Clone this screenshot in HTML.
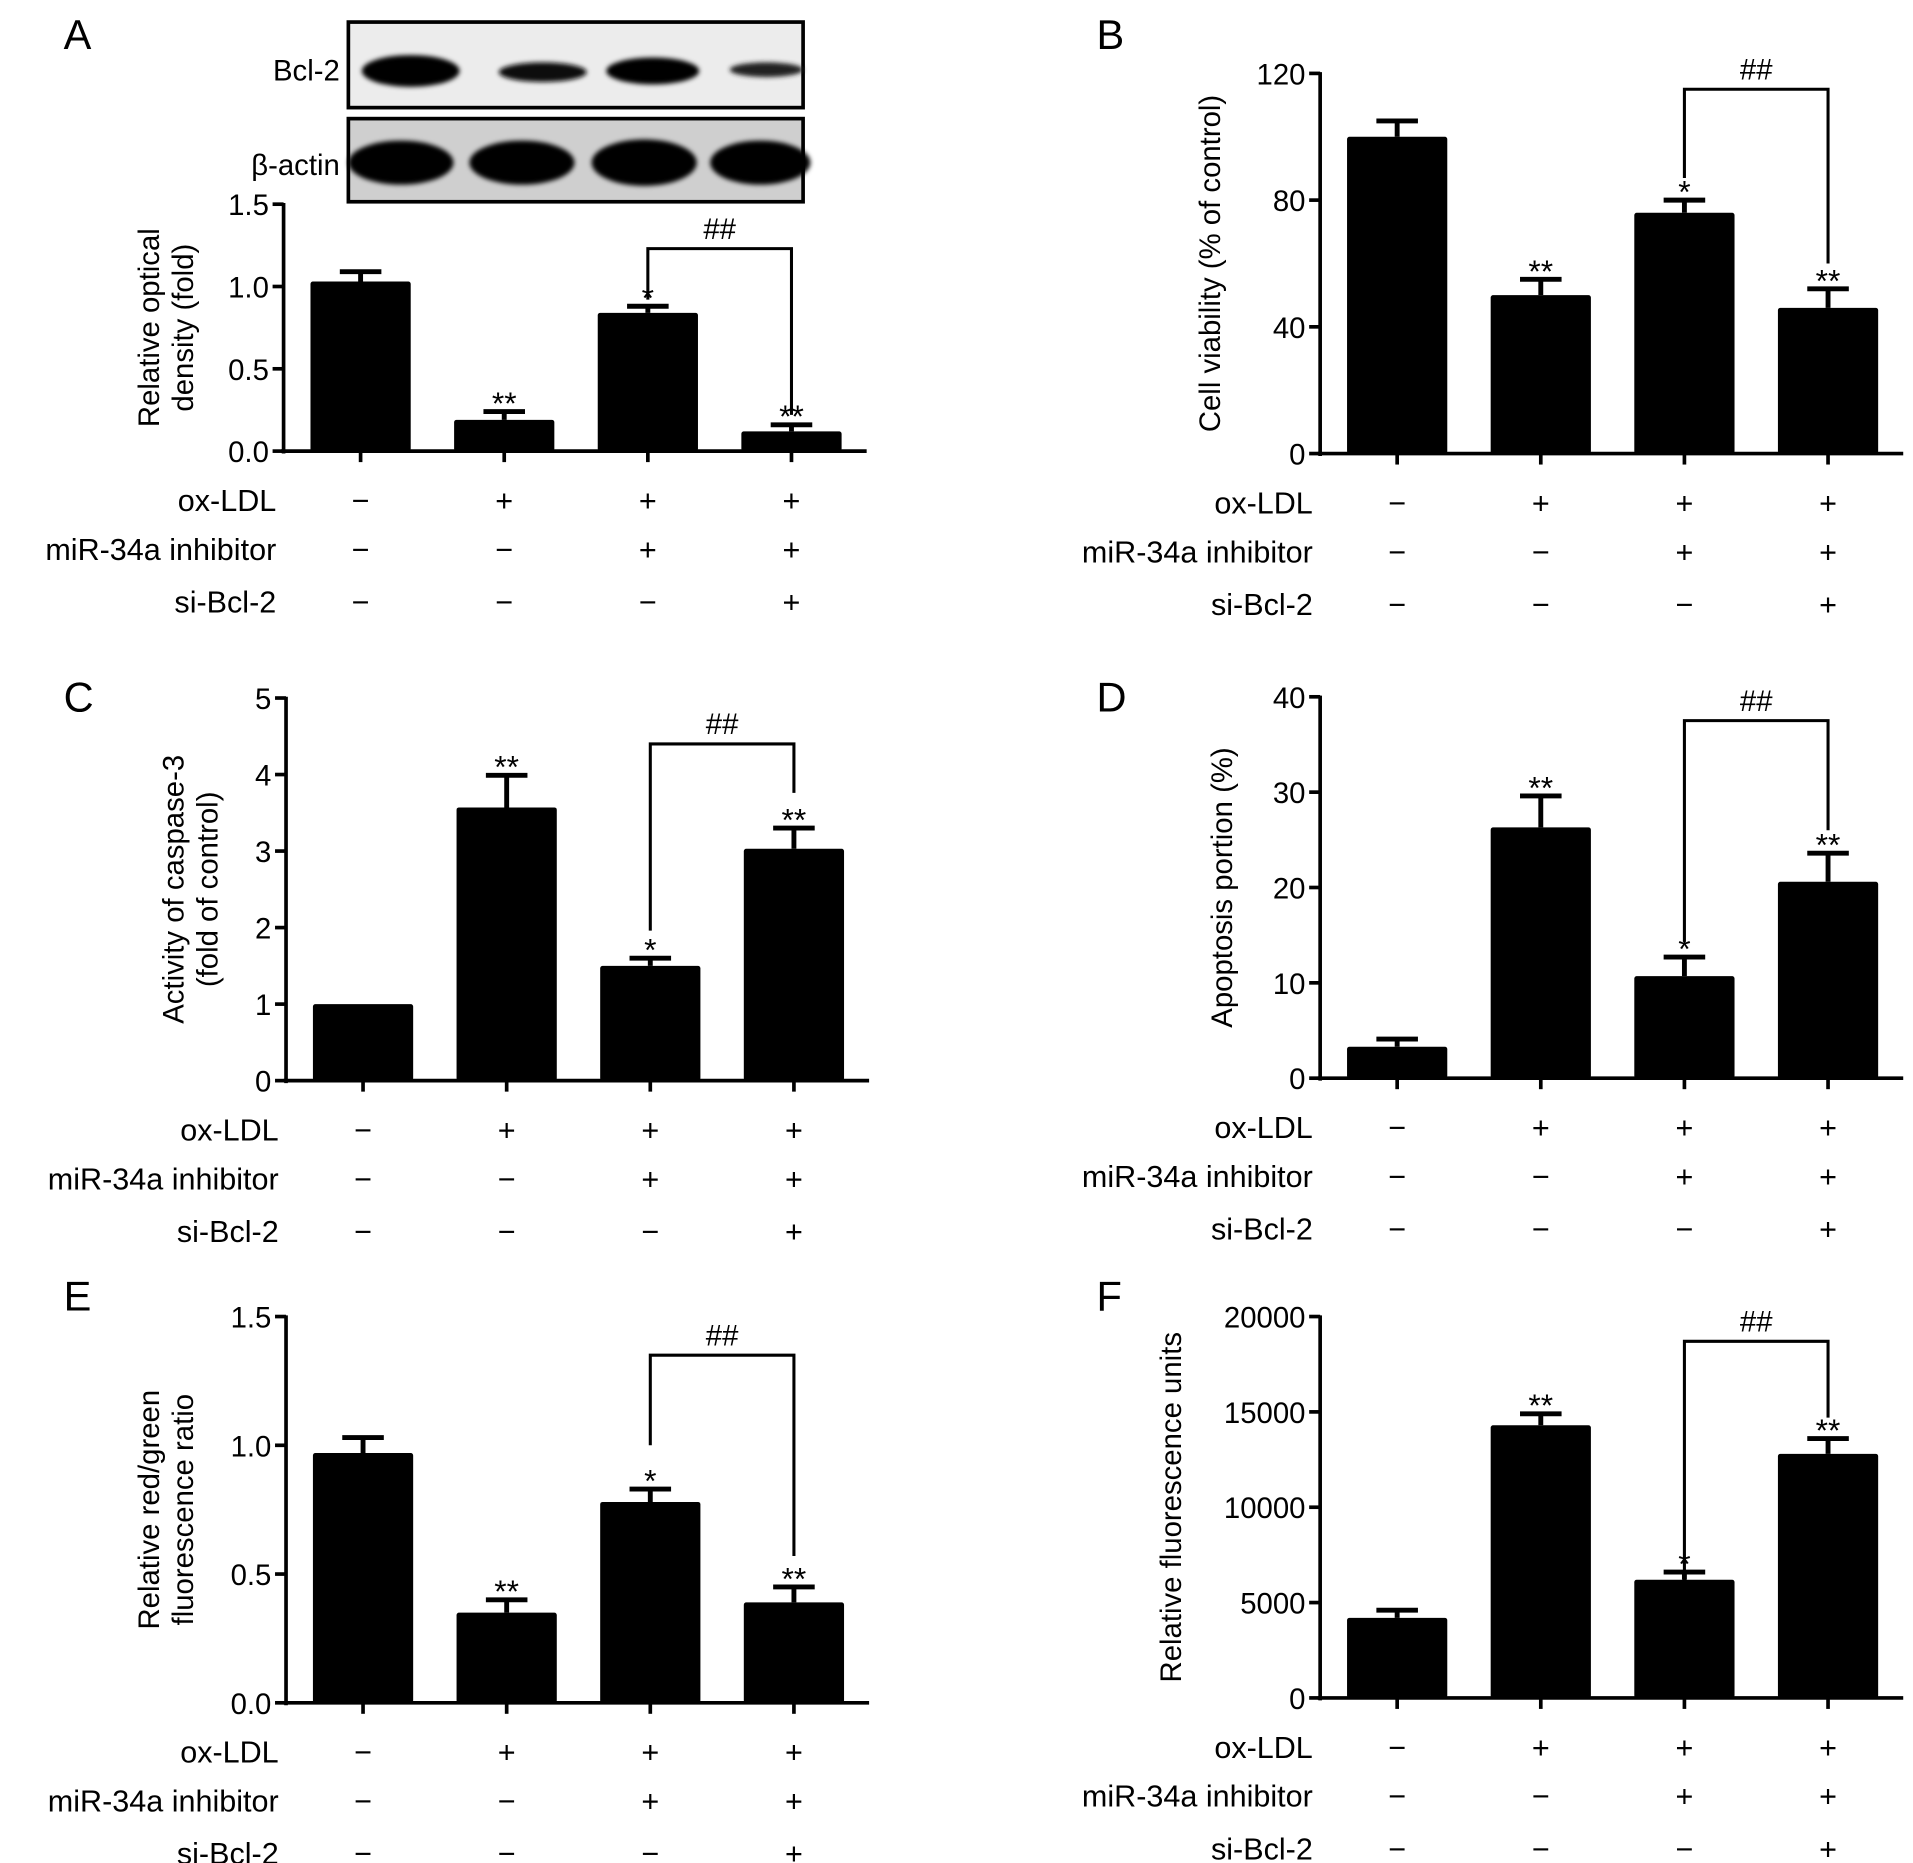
<!DOCTYPE html>
<html><head><meta charset="utf-8">
<style>
html,body{margin:0;padding:0;background:#fff;}
svg{display:block;font-family:"Liberation Sans",Arial,sans-serif;}
</style></head>
<body>
<svg id="fig" xmlns="http://www.w3.org/2000/svg" width="1913" height="1863" viewBox="0 0 1565 1524">
<defs>
<filter id="blur" x="-20%" y="-50%" width="140%" height="200%"><feGaussianBlur stdDeviation="2"/></filter>
</defs>
<g>
  <rect x="285" y="18" width="372" height="70" fill="#ececec" stroke="#000" stroke-width="3"/>
  <rect x="285" y="97" width="372" height="68" fill="#cfcfcf" stroke="#000" stroke-width="3"/>
  <g filter="url(#blur)">
    <ellipse cx="336" cy="58" rx="40" ry="13" fill="#000"/>
    <ellipse cx="444" cy="59" rx="36" ry="8" fill="#111"/>
    <ellipse cx="534" cy="58" rx="38" ry="11" fill="#000"/>
    <ellipse cx="627" cy="57" rx="30" ry="6" fill="#222"/>
    <ellipse cx="328" cy="133" rx="43" ry="18" fill="#000"/>
    <ellipse cx="427" cy="133" rx="43" ry="18" fill="#000"/>
    <ellipse cx="527" cy="133" rx="43" ry="19" fill="#000"/>
    <ellipse cx="622" cy="133" rx="41" ry="18" fill="#000"/>
  </g>
  <text x="278" y="66" font-size="24" text-anchor="end">Bcl-2</text>
  <text x="278" y="143" font-size="24" text-anchor="end">β-actin</text>
</g>
</svg>
<script>
const categories = ["ctrl","ox-LDL","ox-LDL+inhibitor","ox-LDL+inhibitor+si-Bcl-2"];
const rowLabels = ["ox-LDL","miR-34a inhibitor","si-Bcl-2"];
const rowSigns = [["−","+","+","+"],["−","−","+","+"],["−","−","−","+"]];
const valuesA = [1.03,0.19,0.84,0.12];
const errorsA = [0.06,0.05,0.04,0.04];
const ticksA = [0,0.5,1.0,1.5];
const tickLabelsA = ["0.0","0.5","1.0","1.5"];
const marksA = ["","**","*","**"];
const bracketA = [1.23,0.92,0.22];
const valuesB = [100,50,76,46];
const errorsB = [5,5,4,6];
const ticksB = [0,40,80,120];
const tickLabelsB = ["0","40","80","120"];
const marksB = ["","**","*","**"];
const bracketB = [115,87,60];
const valuesC = [1.0,3.57,1.5,3.03];
const errorsC = [0,0.42,0.1,0.27];
const ticksC = [0,1,2,3,4,5];
const tickLabelsC = ["0","1","2","3","4","5"];
const marksC = ["","**","*","**"];
const bracketC = [4.4,1.96,3.76];
const valuesD = [3.3,26.3,10.7,20.6];
const errorsD = [0.8,3.3,2,3];
const ticksD = [0,10,20,30,40];
const tickLabelsD = ["0","10","20","30","40"];
const marksD = ["","**","*","**"];
const bracketD = [37.5,14.3,26];
const valuesE = [0.97,0.35,0.78,0.39];
const errorsE = [0.06,0.05,0.05,0.06];
const ticksE = [0,0.5,1.0,1.5];
const tickLabelsE = ["0.0","0.5","1.0","1.5"];
const marksE = ["","**","*","**"];
const bracketE = [1.35,1.0,0.57];
const valuesF = [4200,14300,6200,12800];
const errorsF = [400,600,400,800];
const ticksF = [0,5000,10000,15000,20000];
const tickLabelsF = ["0","5000","10000","15000","20000"];
const marksF = ["","**","*","**"];
const bracketF = [18700,6000,14700];

const NS = "http://www.w3.org/2000/svg";
const svg = document.getElementById("fig");
function mk(tag, attrs, parent){
  const e = document.createElementNS(NS, tag);
  for (const k in attrs) e.setAttribute(k, attrs[k]);
  (parent||svg).appendChild(e);
  return e;
}
function panel(p){
  const g = mk("g", {});
  
  
  const ymax = p.ticks[p.ticks.length-1];
  const y = v => p.y0 - (v/ymax)*(p.y0 - p.y1);
  const xc = i => p.x0 + 63 + i*117.5;
  const bw = 82;
  const letter = mk("text", {x:p.lx, y:p.ly, "font-size":34}, g);
  letter.textContent = p.id;
  
  
  const yax = mk("line", {x1:p.x0, y1:p.y1-1, x2:p.x0, y2:p.y0+2, stroke:"#000", "stroke-width":3}, g);
  
  
  const xax = mk("line", {x1:p.x0-2, y1:p.y0, x2:p.x0+477, y2:p.y0, stroke:"#000", "stroke-width":3}, g);
  
  
  p.ticks.forEach((t,i)=>{
    mk("line", {x1:p.x0-9, y1:y(t), x2:p.x0, y2:y(t), stroke:"#000", "stroke-width":3}, g);
    const tl = mk("text", {x:p.x0-12, y:y(t)+9, "font-size":24, "text-anchor":"end"}, g);
    tl.textContent = p.tickLabels[i];
    
    
  });
  const tx = p.titleX, ty = (p.y0+p.y1)/2;
  p.title.forEach((line,k)=>{
    const t = mk("text", {x:tx + k*28, y:ty, "font-size":24, "text-anchor":"middle", transform:`rotate(-90 ${tx + k*28} ${ty})`}, g);
    t.textContent = line;
    
    
  });
  p.values.forEach((v,i)=>{
    const cx = xc(i);
    mk("line", {x1:cx, y1:p.y0, x2:cx, y2:p.y0+9, stroke:"#000", "stroke-width":3}, g);
    if (p.errors[i] > 0){
      const ey = y(v + p.errors[i]);
      const el = mk("path", {d:`M${cx},${y(v)} V${ey} M${cx-17},${ey} H${cx+17}`, stroke:"#000", "stroke-width":4, fill:"none"}, g);
      
      
    }
    const r = mk("rect", {x:cx-bw/2, y:y(v), width:bw, height:p.y0 - y(v), fill:"#000", rx:2}, g);
    
    
    if (p.marks[i]){
      const m = mk("text", {x:cx, y:y(v + p.errors[i]) + 2, "font-size":26, "text-anchor":"middle"}, g);
      m.textContent = p.marks[i];
      
      
    }
  });
  const by = y(p.bracket[0]);
  const br = mk("path", {d:`M${xc(2)},${y(p.bracket[1])} V${by} H${xc(3)} V${y(p.bracket[2])}`, stroke:"#000", "stroke-width":2.5, fill:"none"}, g);
  
  
  const hh = mk("text", {x:(xc(2)+xc(3))/2, y:by-8, "font-size":24, "text-anchor":"middle"}, g);
  hh.textContent = "##";
  
  
  const rowsY = [p.y0+40, p.y0+80, p.y0+123];
  rowLabels.forEach((lab,r)=>{
    const t = mk("text", {x:p.x0-6, y:rowsY[r]+9, "font-size":25, "text-anchor":"end"}, g);
    t.textContent = lab;
    
    
    rowSigns[r].forEach((s,i)=>{
      const st = mk("text", {x:xc(i), y:rowsY[r]+9, "font-size":25, "text-anchor":"middle"}, g);
      st.textContent = s;
      
      
    });
  });
}
panel({id:"A", lx:52, ly:40, x0:232, y0:369, y1:167, ticks:ticksA, tickLabels:tickLabelsA, values:valuesA, errors:errorsA, marks:marksA, bracket:bracketA, title:["Relative optical","density (fold)"], titleX:130});
panel({id:"B", lx:897, ly:40, x0:1080, y0:371, y1:60, ticks:ticksB, tickLabels:tickLabelsB, values:valuesB, errors:errorsB, marks:marksB, bracket:bracketB, title:["Cell viability (% of control)"], titleX:998});
panel({id:"C", lx:52, ly:582, x0:234, y0:884, y1:571, ticks:ticksC, tickLabels:tickLabelsC, values:valuesC, errors:errorsC, marks:marksC, bracket:bracketC, title:["Activity of caspase-3","(fold of control)"], titleX:150});
panel({id:"D", lx:897, ly:582, x0:1080, y0:882, y1:570, ticks:ticksD, tickLabels:tickLabelsD, values:valuesD, errors:errorsD, marks:marksD, bracket:bracketD, title:["Apoptosis portion (%)"], titleX:1008});
panel({id:"E", lx:52, ly:1072, x0:234, y0:1393, y1:1077, ticks:ticksE, tickLabels:tickLabelsE, values:valuesE, errors:errorsE, marks:marksE, bracket:bracketE, title:["Relative red/green","fluorescence ratio"], titleX:130});
panel({id:"F", lx:897, ly:1072, x0:1080, y0:1389, y1:1077, ticks:ticksF, tickLabels:tickLabelsF, values:valuesF, errors:errorsF, marks:marksF, bracket:bracketF, title:["Relative fluorescence units"], titleX:966});
</script>
</body></html>
